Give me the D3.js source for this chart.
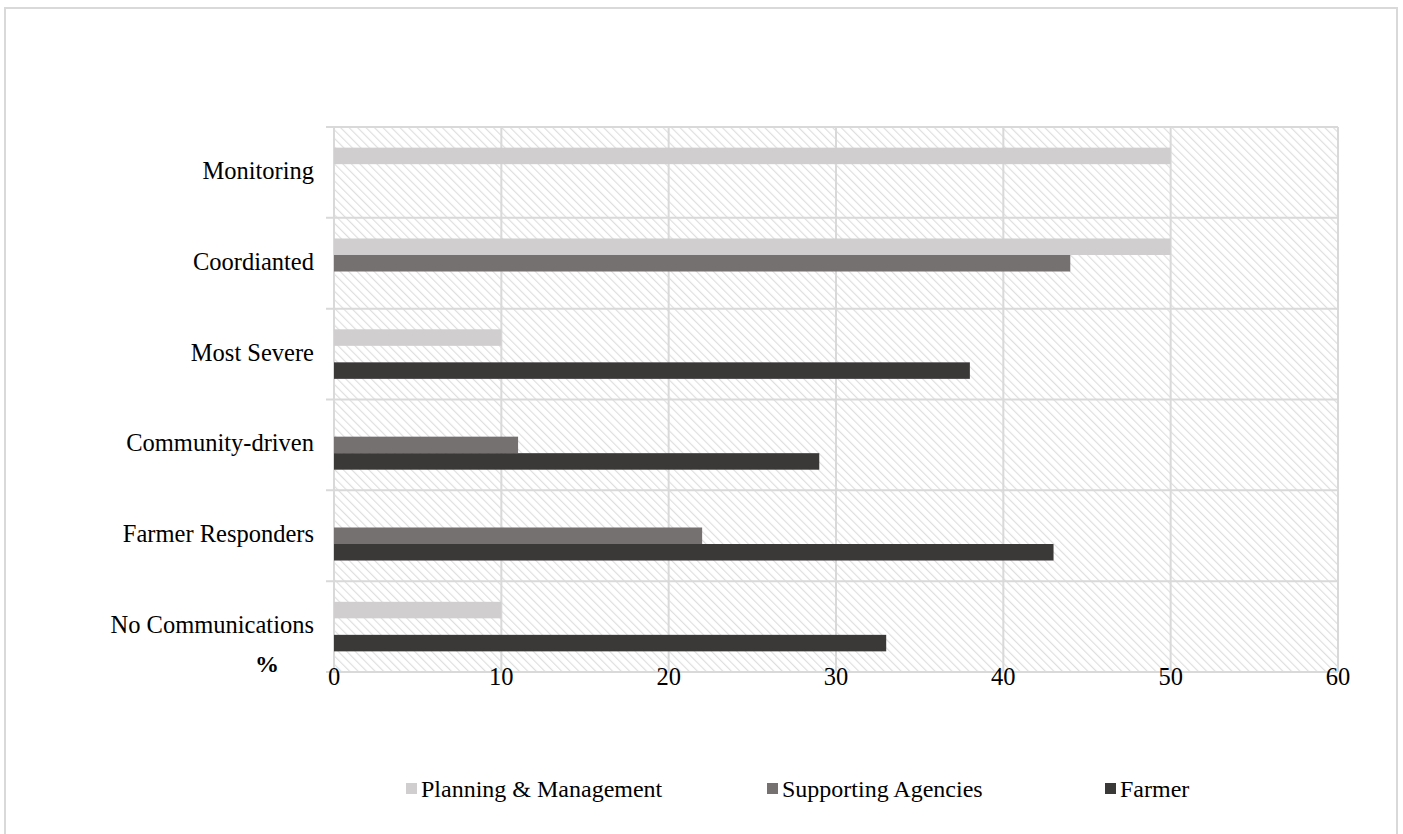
<!DOCTYPE html>
<html>
<head>
<meta charset="utf-8">
<script src="https://cdn.jsdelivr.net/npm/d3@7"></script>
<style>
  html, body { margin: 0; padding: 0; background: #fff; }
  svg { display: block; font-family: "Liberation Serif", "Times New Roman", serif; }
</style>
</head>
<body>
<svg id="chart" width="1403" height="834"></svg>
<script>
// Categories, top to bottom
const categories = ["Monitoring", "Coordianted", "Most Severe", "Community-driven", "Farmer Responders", "No Communications"];
// Series names (legend order, top-to-bottom within each group)
const seriesNames = ["Planning & Management", "Supporting Agencies", "Farmer"];
const seriesColors = ["#d0cece", "#767171", "#3b3838"];
// Values (%) per series, aligned with categories
const planningValues   = [50, 50, 10, 0, 0, 10];
const supportingValues = [0, 44, 0, 11, 22, 0];
const farmerValues     = [0, 0, 38, 29, 43, 33];
const xTicks = [0, 10, 20, 30, 40, 50, 60];

const seriesValues = [planningValues, supportingValues, farmerValues];

const svg = d3.select("#chart");

// outer chart frame
svg.append("rect")
  .attr("x", 5).attr("y", 8).attr("width", 1392).attr("height", 840)
  .attr("fill", "#fff").attr("stroke", "#d9d9d9").attr("stroke-width", 2);

const plot = { left: 334, right: 1338, top: 127, bottom: 672 };

const x = d3.scaleLinear().domain([0, 60]).range([plot.left, plot.right]);
const y0 = d3.scaleBand().domain(categories).range([plot.top, plot.bottom]).padding(0);
const y1 = d3.scaleBand().domain(seriesNames).range([0, y0.bandwidth()]).paddingInner(0).paddingOuter(1.25);

// diagonal hatch for plot area
const defs = svg.append("defs");
const pat = defs.append("pattern")
  .attr("id", "hatch").attr("patternUnits", "userSpaceOnUse")
  .attr("width", 6).attr("height", 6)
  .attr("patternTransform", "rotate(-45)");
pat.append("rect").attr("width", 6).attr("height", 6).attr("fill", "#fff");
pat.append("line").attr("x1", 0).attr("y1", 0).attr("x2", 0).attr("y2", 6)
  .attr("stroke", "#dedede").attr("stroke-width", 2.3);

svg.append("rect")
  .attr("x", plot.left).attr("y", plot.top)
  .attr("width", plot.right - plot.left).attr("height", plot.bottom - plot.top)
  .attr("fill", "url(#hatch)");

// vertical gridlines
svg.append("g").selectAll("line").data(xTicks).join("line")
  .attr("x1", d => x(d)).attr("x2", d => x(d))
  .attr("y1", plot.top).attr("y2", plot.bottom)
  .attr("stroke", "#d9d9d9").attr("stroke-width", 2);

// horizontal category separators (extend as tick marks left of axis)
const bounds = categories.map(c => y0(c)).concat([plot.bottom]);
svg.append("g").selectAll("line").data(bounds).join("line")
  .attr("x1", plot.left - 8).attr("x2", plot.right)
  .attr("y1", d => d).attr("y2", d => d)
  .attr("stroke", "#d9d9d9").attr("stroke-width", 2);

// bars
const groups = svg.append("g").selectAll("g").data(categories).join("g")
  .attr("transform", c => `translate(0,${y0(c)})`);
groups.selectAll("rect")
  .data((c, i) => seriesNames.map((s, k) => ({ s, k, v: seriesValues[k][i] })).filter(d => d.v > 0))
  .join("rect")
  .attr("x", x(0))
  .attr("y", d => y1(d.s))
  .attr("width", d => x(d.v) - x(0))
  .attr("height", y1.bandwidth())
  .attr("fill", d => seriesColors[d.k]);

// category labels
svg.append("g").selectAll("text").data(categories).join("text")
  .attr("x", 314).attr("y", c => y0(c) + y0.bandwidth() / 2 - 2)
  .attr("dy", "0.35em").attr("text-anchor", "end")
  .attr("font-size", 24.5).attr("fill", "#000")
  .text(d => d);

// x tick labels
svg.append("g").selectAll("text").data(xTicks).join("text")
  .attr("x", d => x(d)).attr("y", 685)
  .attr("text-anchor", "middle").attr("font-size", 24.5).attr("fill", "#000")
  .text(d => d);

// unit label
svg.append("text").attr("x", 267).attr("y", 672).attr("text-anchor", "middle")
  .attr("font-size", 24).attr("font-weight", "bold").text("%");

// legend
const legendX = [406, 767, 1105];
const lg = svg.append("g").selectAll("g").data(seriesNames).join("g")
  .attr("transform", (d, i) => `translate(${legendX[i]},789)`);
lg.append("rect").attr("x", 0).attr("y", -6).attr("width", 11).attr("height", 11)
  .attr("fill", (d, i) => seriesColors[i]);
lg.append("text").attr("x", 15).attr("y", 0).attr("dy", "0.35em")
  .attr("font-size", 24).attr("fill", "#000").text(d => d);
</script>
</body>
</html>
